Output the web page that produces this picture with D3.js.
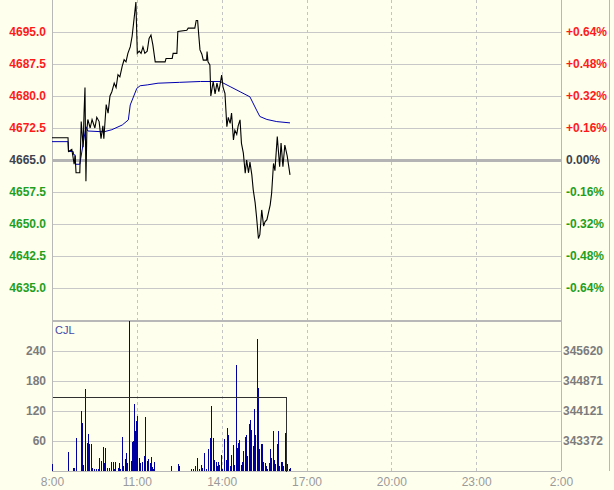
<!doctype html>
<html>
<head>
<meta charset="utf-8">
<script src="https://d3js.org/d3.v7.min.js"></script>
<title>Intraday</title>
<style>
  body { margin: 0; background: #ffffee; }
  svg { display: block; font-family: "Liberation Sans", Arial, sans-serif; }
</style>
</head>
<body>
<svg id="chart"></svg>
<script>
// ---- data ----
const prevClose = 4665.0;
const priceTicks = [4695.0, 4687.5, 4680.0, 4672.5, 4665.0, 4657.5, 4650.0, 4642.5, 4635.0];
const timeTicks = ["8:00", "11:00", "14:00", "17:00", "20:00", "23:00", "2:00"];
const volTicks = [60, 120, 180, 240];
const volRightLabels = ["343372", "344121", "344871", "345620"];

// last price
const priceSeries = [
  ["8:00",4670.2],["8:34",4670.2],["8:35",4667],["8:42",4667.5],["8:47",4664],["8:49",4666],
  ["8:51",4662],["8:59",4662],["9:02",4674],["9:06",4668],["9:08",4676],["9:10",4682],
  ["9:12",4660],["9:14",4672],["9:16",4674.5],["9:21",4672.5],["9:25",4674.5],["9:31",4672.5],
  ["9:35",4675],["9:40",4674],["9:44",4670],["9:48",4673],["9:50",4670],["9:55",4678],
  ["9:59",4676],["10:03",4680],["10:07",4681],["10:12",4683],["10:16",4682],["10:20",4685],
  ["10:24",4684.5],["10:29",4687],["10:33",4688.5],["10:37",4688],["10:41",4690],["10:46",4691.5],
  ["10:50",4694],["10:54",4698],["10:58",4702],["11:01",4690],["11:05",4690.5],["11:09",4690],
  ["11:13",4691.5],["11:17",4690],["11:22",4690.5],["11:26",4693.5],["11:30",4694.3],["11:34",4692],
  ["11:39",4688],["12:00",4688],["12:02",4688.8],["12:15",4688.8],["12:17",4690],["12:25",4690],
  ["12:27",4695.1],["12:46",4695.4],["12:49",4695.9],["13:03",4695.9],["13:06",4697.7],["13:09",4697.7],
  ["13:11",4694.8],["13:14",4690.8],["13:18",4689.8],["13:21",4688.4],["13:28",4688.4],["13:29",4690.4],
  ["13:31",4688],["13:35",4687.3],["13:37",4680],["13:42",4683.4],["13:46",4680.5],["13:50",4683],
  ["13:54",4681],["14:00",4684.9],["14:03",4682],["14:07",4680.6],["14:11",4672.8],["14:14",4675],
  ["14:18",4673.6],["14:21",4676],["14:25",4669.7],["14:28",4672],["14:32",4671],["14:35",4673],
  ["14:39",4674.4],["14:42",4668.9],["14:46",4666.6],["14:50",4661.9],["14:53",4665],["14:57",4662],
  ["15:00",4664.5],["15:04",4661.5],["15:07",4658],["15:11",4655],["15:14",4651.7],["15:18",4646.6],
  ["15:21",4647.5],["15:25",4653.3],["15:29",4649.5],["15:32",4650.5],["15:36",4651],["15:39",4652.5],
  ["15:43",4654.5],["15:46",4657.2],["15:50",4664.2],["15:53",4662.5],["15:58",4670.5],["16:03",4663.4],
  ["16:06",4669],["16:10",4663.4],["16:14",4668.5],["16:19",4666],["16:25",4661.5]
];

// average price
const avgSeries = [
  ["8:00",4669.3],["8:34",4669.3],["8:35",4667],["8:45",4667],["8:46",4666.2],["8:49",4666.2],
  ["8:50",4664],["8:59",4664],["9:12",4672.8],["9:16",4671.8],["9:50",4671.6],["10:07",4672.1],
  ["10:29",4673.2],["10:42",4674.4],["10:46",4677.9],["11:00",4681.8],["11:07",4682.4],["11:22",4682.6],
  ["11:45",4683],["12:30",4683.2],["13:15",4683.4],["13:57",4683.4],["14:18",4682.2],["14:39",4681],
  ["15:00",4679.8],["15:14",4676.7],["15:21",4675.2],["15:36",4674.5],["15:57",4674],["16:25",4673.7]
];

// volume (CJL)
const volumeSeries = [
  ["8:00",14],["8:35",39],["8:44",6],["8:47",7],["8:51",67],["9:01",120],["9:04",97],["9:06",12],
  ["9:09",150],["9:11",164],["9:15",57],["9:17",74],["9:19",54],["9:22",54],["9:25",7],["9:29",4],
  ["9:33",4],["9:38",4],["9:40",26],["9:44",21],["9:48",49],["9:50",16],["9:53",46],["9:57",7],
  ["10:01",7],["10:05",19],["10:09",19],["10:12",5],["10:14",19],["10:19",7],["10:22",17],["10:24",5],
  ["10:29",69],["10:31",11],["10:34",24],["10:37",36],["10:40",17],["10:43",36],["10:44",300],["10:47",21],
  ["10:50",59],["10:52",61],["10:54",135],["10:56",81],["10:58",101],["11:01",111],["11:04",27],["11:07",17],
  ["11:10",9],["11:12",19],["11:15",31],["11:18",109],["11:21",21],["11:24",24],["11:27",16],["11:29",29],
  ["11:32",9],["11:35",5],["11:37",19],["11:58",1],["12:12",11],["12:27",15],["12:30",11],["12:48",1],
  ["12:54",4],["13:00",4],["13:03",11],["13:08",26],["13:12",5],["13:16",13],["13:19",7],["13:23",37],
  ["13:26",5],["13:32",45],["13:35",67],["13:38",131],["13:41",67],["13:44",22],["13:47",19],["13:50",11],
  ["13:52",19],["13:55",13],["13:58",33],["14:01",5],["14:04",16],["14:06",64],["14:09",23],["14:12",86],
  ["14:14",72],["14:18",11],["14:20",32],["14:23",52],["14:27",12],["14:30",212],["14:33",47],["14:35",57],
  ["14:37",62],["14:40",12],["14:43",19],["14:46",41],["14:49",69],["14:52",72],["14:54",31],["14:57",95],
  ["15:00",102],["15:03",83],["15:06",51],["15:09",124],["15:11",72],["15:14",265],["15:17",166],["15:20",44],
  ["15:23",54],["15:26",55],["15:28",19],["15:31",17],["15:34",11],["15:37",4],["15:40",17],["15:43",45],
  ["15:45",26],["15:48",81],["15:51",23],["15:54",14],["15:57",54],["15:59",81],["16:02",11],["16:05",19],
  ["16:08",19],["16:11",11],["16:14",77],["16:16",74],["16:19",14],["16:22",5],["16:26",7]
];

// flat black line in the volume panel
const holdLevel = 148;
const holdEnd = "16:17";

// ---- layout ----
const W = 614, H = 490;
const left = 52, right = 561, frameRight = 609;
const priceTop = 0, priceBottom = 320;
const volTop = 321, volBottom = 471;

function toMin(s) {
  const [h, m] = s.split(":").map(Number);
  let t = h * 60 + m;
  if (h < 8) t += 1440;
  return t;
}

const svg = d3.select("#chart").attr("width", W).attr("height", H);

const x = d3.scaleLinear().domain([toMin("8:00"), toMin("2:00")]).range([left, right]);
const y = d3.scaleLinear().domain([4627.5, 4702.5]).range([priceBottom, priceTop]);
const yv = d3.scaleLinear().domain([0, 300]).range([volBottom, volTop]);

svg.append("rect").attr("width", W).attr("height", H).attr("fill", "#ffffee");

const grid = svg.append("g").attr("shape-rendering", "crispEdges");

// horizontal grid, price panel
grid.selectAll(".pg")
  .data(priceTicks)
  .join("line")
  .attr("x1", left).attr("x2", right)
  .attr("y1", d => Math.round(y(d)) + 0.5).attr("y2", d => Math.round(y(d)) + 0.5)
  .attr("stroke", d => d === prevClose ? "#b4b4b4" : "#c8c8c8")
  .attr("stroke-width", d => d === prevClose ? 3 : 1);

// horizontal grid, volume panel
grid.selectAll(".vg")
  .data(volTicks)
  .join("line")
  .attr("x1", left).attr("x2", right)
  .attr("y1", d => Math.round(yv(d)) + 0.5).attr("y2", d => Math.round(yv(d)) + 0.5)
  .attr("stroke", "#c8c8c8");

// dashed time lines
grid.selectAll(".tg")
  .data(timeTicks.slice(1, -1))
  .join("line")
  .attr("x1", d => Math.round(x(toMin(d))) + 0.5).attr("x2", d => Math.round(x(toMin(d))) + 0.5)
  .attr("y1", 0).attr("y2", volBottom)
  .attr("stroke", "#c4c4c4")
  .attr("stroke-dasharray", "3,3");

// frame
const frame = svg.append("g").attr("shape-rendering", "crispEdges").attr("stroke", "#b8b8b8");
frame.append("line").attr("x1", left + 0.5).attr("x2", left + 0.5).attr("y1", 0).attr("y2", volBottom);
frame.append("line").attr("x1", right + 0.5).attr("x2", right + 0.5).attr("y1", 0).attr("y2", volBottom);
frame.append("line").attr("x1", frameRight + 0.5).attr("x2", frameRight + 0.5).attr("y1", 0).attr("y2", volBottom);
frame.append("line").attr("x1", left).attr("x2", right).attr("y1", volTop).attr("y2", volTop).attr("stroke-width", 2);
frame.append("line").attr("x1", left).attr("x2", right).attr("y1", volBottom + 0.5).attr("y2", volBottom + 0.5);

// volume bars
svg.append("g").attr("shape-rendering", "crispEdges")
  .selectAll("rect")
  .data(volumeSeries)
  .join("rect")
  .attr("x", d => Math.round(x(toMin(d[0]))))
  .attr("width", 1)
  .attr("y", d => yv(d[1]))
  .attr("height", d => yv(0) - yv(d[1]))
  .attr("fill", "#0000a0");

// flat line in volume panel
svg.append("path")
  .datum([["8:00", holdLevel], [holdEnd, holdLevel], [holdEnd, 0]])
  .attr("fill", "none")
  .attr("stroke", "#303030")
  .attr("shape-rendering", "crispEdges")
  .attr("d", d3.line().x(d => Math.round(x(toMin(d[0]))) + 0.5).y(d => Math.round(yv(d[1])) + 0.5));

svg.append("text")
  .attr("x", left + 3).attr("y", volTop + 13)
  .attr("fill", "#4848a8")
  .attr("font-size", 11)
  .text("CJL");

// price lines
const line = d3.line().x(d => x(toMin(d[0]))).y(d => y(d[1]));

svg.append("path")
  .datum(avgSeries)
  .attr("fill", "none")
  .attr("stroke", "#0000b0")
  .attr("stroke-width", 1)
  .attr("d", line);

svg.append("path")
  .datum(priceSeries)
  .attr("fill", "none")
  .attr("stroke", "#000")
  .attr("stroke-width", 1.1)
  .attr("d", line);

// ---- axes ----
const colorOf = v => v > prevClose ? "#ff1a1a" : v < prevClose ? "#1ea01e" : "#3c4450";
const pct = v => {
  const p = (v - prevClose) / prevClose * 100;
  const s = Math.abs(p).toFixed(2) + "%";
  return p > 0.0001 ? "+" + s : p < -0.0001 ? "-" + s : s;
};

function styleAxis(g) {
  g.select(".domain").remove();
  g.selectAll(".tick line").remove();
  g.selectAll("text").attr("font-family", "Liberation Sans, Arial, sans-serif").attr("font-weight", "bold").attr("font-size", 12);
}

svg.append("g")
  .attr("transform", `translate(${left},0)`)
  .call(d3.axisLeft(y).tickValues(priceTicks).tickFormat(d3.format(".1f")).tickSize(0).tickPadding(6))
  .call(styleAxis)
  .selectAll("text").attr("fill", d => colorOf(d));

svg.append("g")
  .attr("transform", `translate(${right},0)`)
  .call(d3.axisRight(y).tickValues(priceTicks).tickFormat(pct).tickSize(0).tickPadding(5))
  .call(styleAxis)
  .selectAll("text").attr("fill", d => colorOf(d));

svg.append("g")
  .attr("transform", `translate(${left},0)`)
  .call(d3.axisLeft(yv).tickValues(volTicks).tickSize(0).tickPadding(6))
  .call(styleAxis)
  .selectAll("text").attr("fill", "#7c7c7c");

svg.append("g")
  .attr("transform", `translate(${right},0)`)
  .call(d3.axisRight(yv).tickValues(volTicks).tickFormat((d, i) => volRightLabels[i]).tickSize(0).tickPadding(2))
  .call(styleAxis)
  .selectAll("text").attr("fill", "#7c7c7c");

svg.append("g")
  .attr("transform", `translate(0,${volBottom})`)
  .call(d3.axisBottom(x).tickValues(timeTicks.map(toMin)).tickFormat((d, i) => timeTicks[i]).tickSize(0).tickPadding(6))
  .call(styleAxis)
  .selectAll("text").attr("fill", "#9a9a9a").attr("font-weight", "normal");
</script>
</body>
</html>
